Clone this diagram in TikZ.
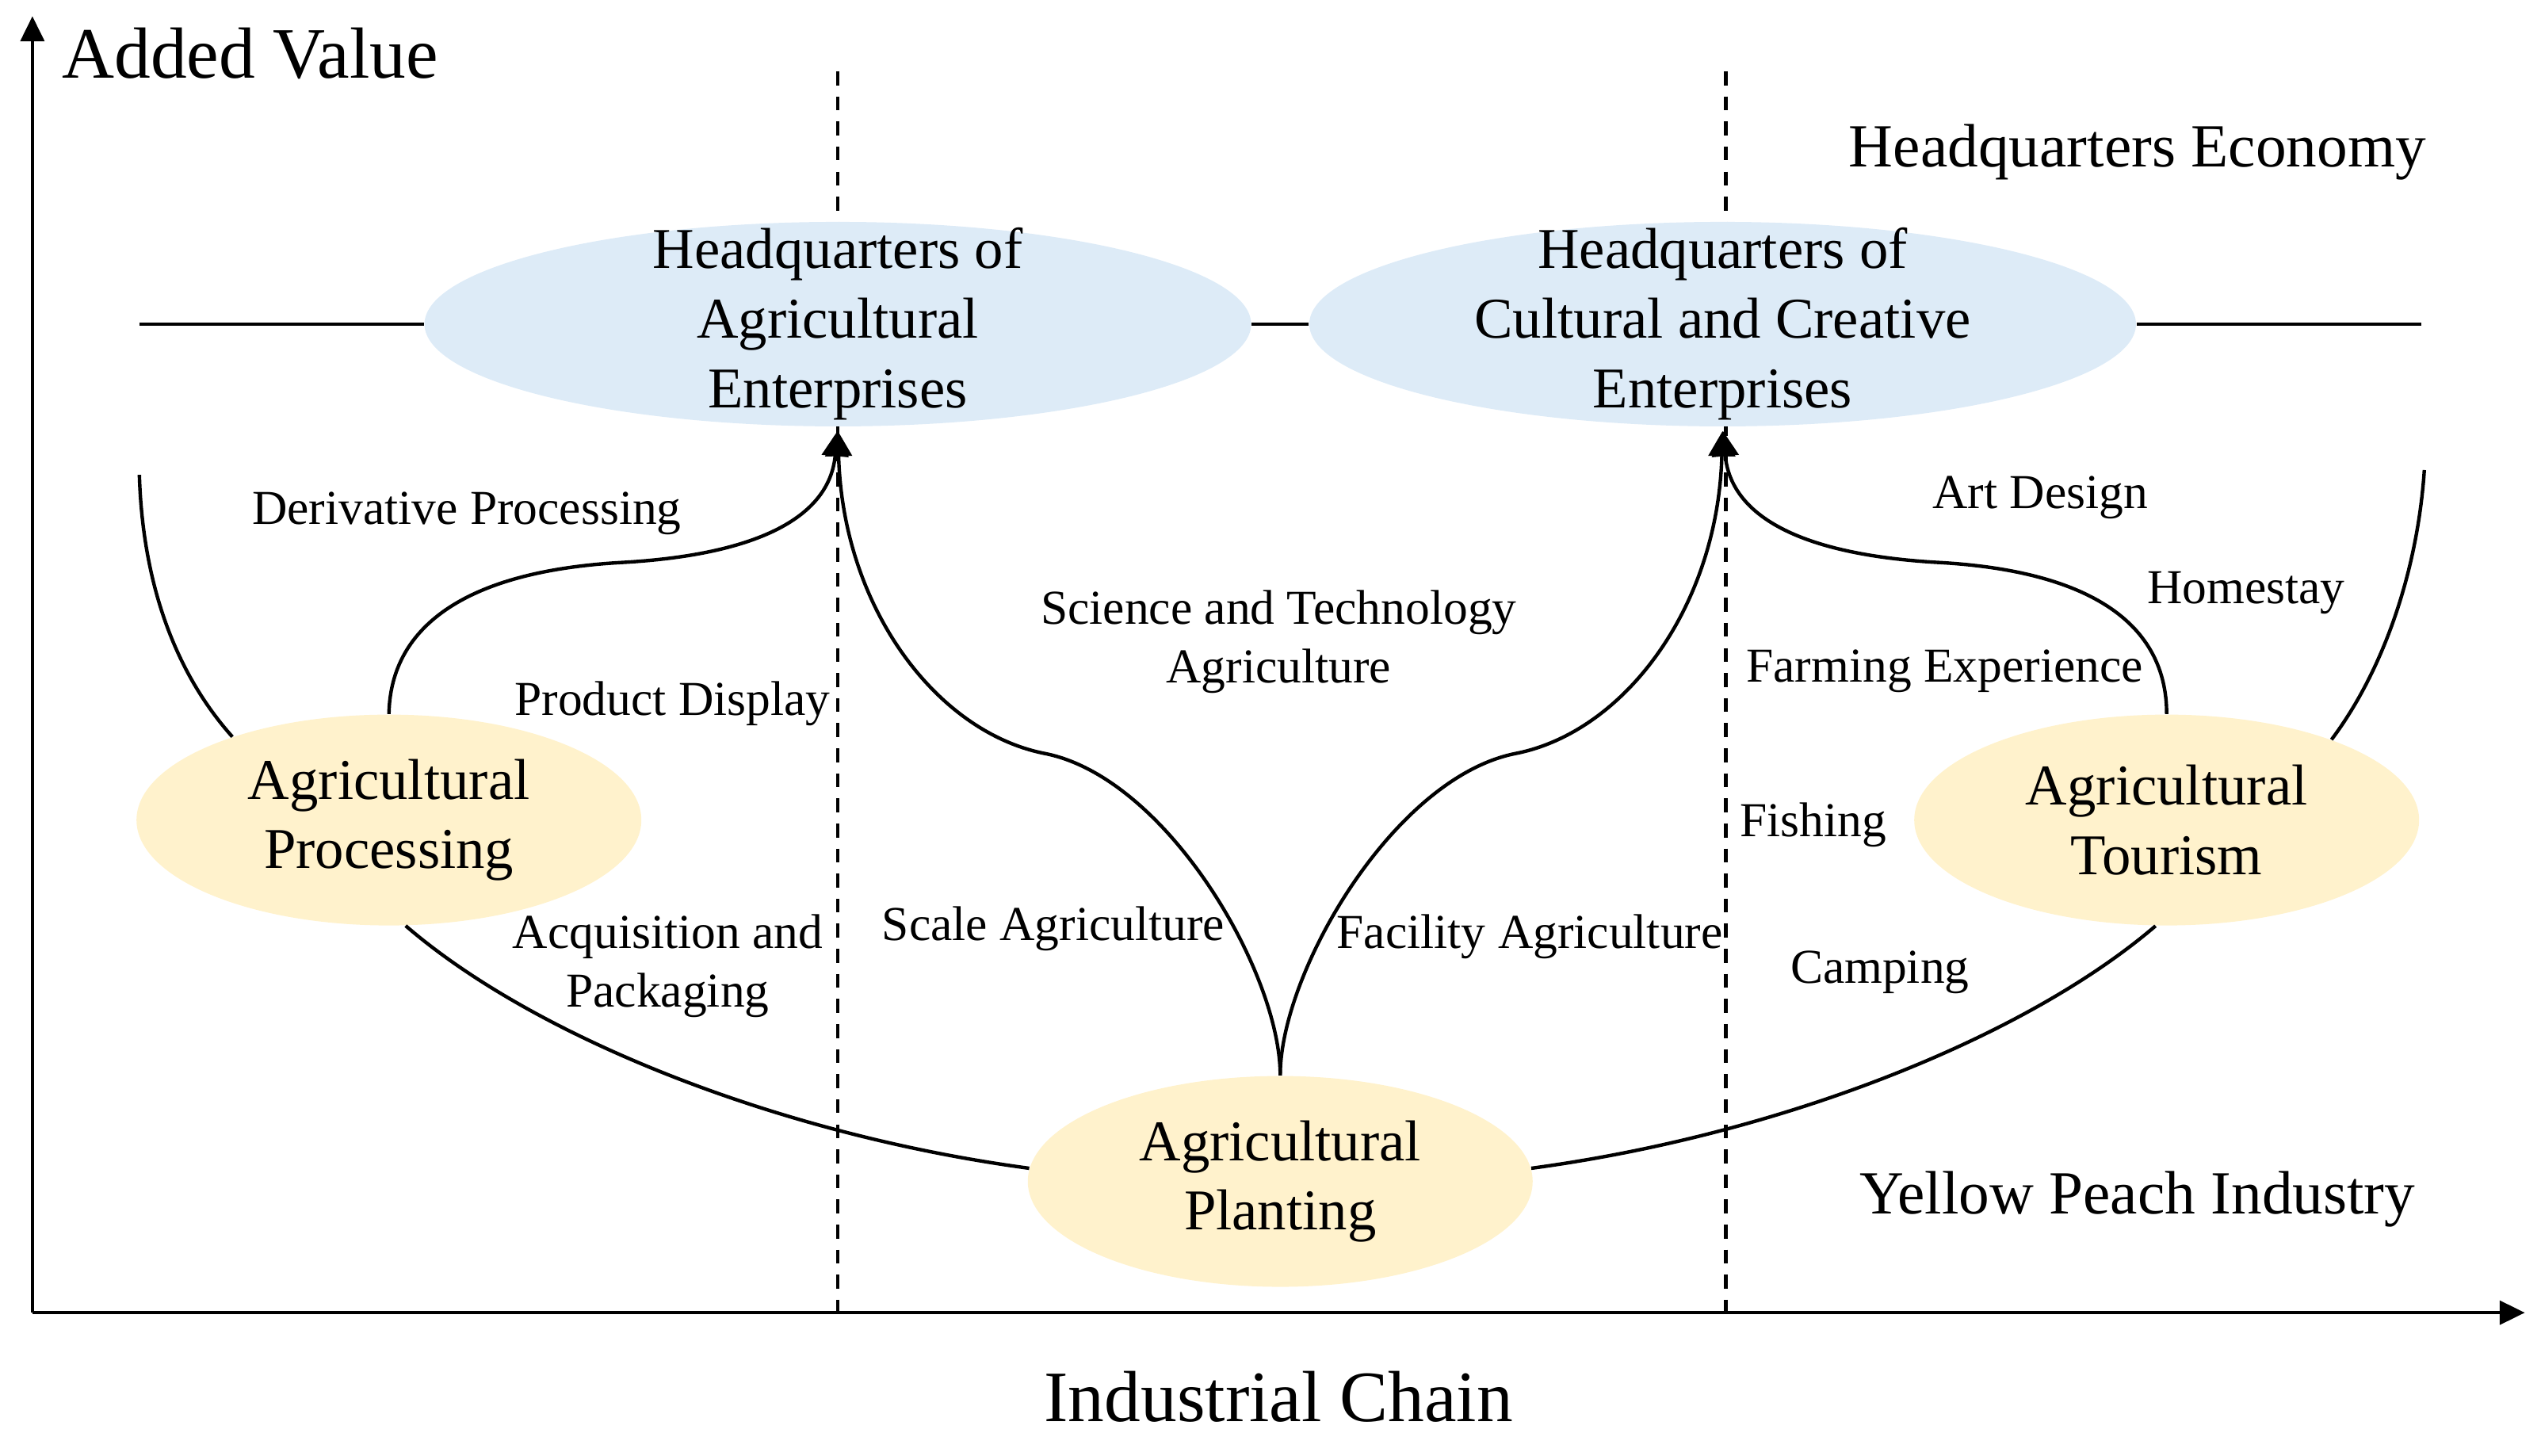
\documentclass[tikz,border=0pt]{standalone}
\usepackage{fontspec}
\setmainfont{Liberation Serif}
\usepackage{xcolor}
\usepackage{tikz}
\usetikzlibrary{arrows.meta,shapes.geometric}
\definecolor{hqblue}{HTML}{DDEBF7}
\definecolor{peachyellow}{HTML}{FFF2CC}
\tikzset{
  headquarters/.style={
    ellipse,
    fill=hqblue,
    minimum width=10.43cm,
    minimum height=2.58cm,
    inner xsep=0pt,
    inner ysep=-12pt,
    align=center,
    font=\fontsize{20.7}{25}\selectfont
  },
  industry/.style={
    ellipse,
    fill=peachyellow,
    minimum width=6.37cm,
    minimum height=2.66cm,
    inner sep=0pt,
    align=center,
    font=\fontsize{20.7}{25}\selectfont
  },
  link/.style={line width=1.25pt},
  arrow/.style={-{Triangle[length=9pt,width=9.5pt]},line width=1.25pt,shorten >=1.5pt},
  axis/.style={-{Triangle[length=9pt,width=8.5pt]},line width=1.2pt},
  divider/.style={dash pattern=on 5pt off 4pt,line width=1.3pt},
  stageLabel/.style={font=\fontsize{17.5}{21}\selectfont,align=center,inner sep=0pt},
  sectorLabel/.style={font=\fontsize{22}{26}\selectfont,inner sep=0pt},
  axisLabel/.style={font=\fontsize{26}{30}\selectfont,inner sep=0pt}
}

\begin{document}
\begin{tikzpicture}[x=0.020446cm,y=-0.020446cm]
  \useasboundingbox (0,0) rectangle (1568,898);

  % axes
  \coordinate (origin) at (20,810);
  \coordinate (yTop) at (20,10);
  \coordinate (xEnd) at (1558,810);
  \draw[axis] (origin) -- (yTop);
  \draw[axis] (origin) -- (xEnd);

  \node[axisLabel,anchor=west] (addedValue) at (38,33) {Added Value};
  \node[axisLabel] (industrialChain) at (789,862) {Industrial Chain};

  % dividers
  \coordinate (divLTop) at (517,44);
  \coordinate (divLBot) at (517,810);
  \coordinate (divRTop) at (1065,44);
  \coordinate (divRBot) at (1065,810);
  \draw[divider] (divLTop) -- (divLBot);
  \draw[divider] (divRTop) -- (divRBot);

  \node[headquarters] (hqAgri) at (517,200) {
    Headquarters of\\
    Agricultural\\
    Enterprises
  };
  \node[headquarters] (hqCult) at (1063,200) {
    Headquarters of\\
    Cultural and Creative\\
    Enterprises
  };

  \node[industry] (proc) at (240,506) {Agricultural\\Processing};
  \node[industry] (plant) at (790,729) {Agricultural\\Planting};
  \node[industry] (tour) at (1337,506) {Agricultural\\Tourism};

  % headquarters line
  \coordinate (hqLineL) at (86,200);
  \coordinate (hqLineR) at (1494,200);
  \draw[link] (hqLineL) -- (hqAgri);
  \draw[link] (hqAgri) -- (hqCult);
  \draw[link] (hqCult) -- (hqLineR);

  % industry curve
  \coordinate (outerL) at (86,293);
  \coordinate (outerR) at (1496,290);
  \draw[link] (outerL) .. controls (88,360) and (108,415) .. (proc.152);
  \draw[link] (proc.-81) .. controls (330,640) and (480,700) .. (plant.177);
  \draw[link] (plant.3) .. controls (1100,700) and (1250,640) .. (tour.-96);
  \draw[link] (tour.26) .. controls (1472,412) and (1492,350) .. (outerR);

  \draw[arrow] (proc.north) .. controls (241,385) and (290,352) .. (385,347)
    .. controls (470,342) and (512,318) .. (hqAgri.south);
  \draw[arrow] (plant.north) .. controls (790,600) and (720,480) .. (645,465)
    .. controls (578,452) and (520,375) .. (hqAgri.south);
  \draw[arrow] (plant.north) .. controls (790,600) and (860,480) .. (935,465)
    .. controls (1002,452) and (1060,375) .. (hqCult.south);
  \draw[arrow] (tour.north) .. controls (1337,385) and (1290,352) .. (1195,347)
    .. controls (1110,342) and (1068,318) .. (hqCult.south);

  \node[stageLabel] (derivProc) at (288,317) {Derivative Processing};
  \node[stageLabel] (prodDisplay) at (415,434) {Product Display};
  \node[stageLabel] (acqPack) at (412,596) {Acquisition and\\Packaging};
  \node[stageLabel] (sciTech) at (789,396) {Science and Technology\\Agriculture};
  \node[stageLabel] (scaleAgri) at (650,573) {Scale Agriculture};
  \node[stageLabel] (facilityAgri) at (944,578) {Facility Agriculture};
  \node[stageLabel] (artDesign) at (1259,307) {Art Design};
  \node[stageLabel] (homestay) at (1386,366) {Homestay};
  \node[stageLabel] (farmExp) at (1200,414) {Farming Experience};
  \node[stageLabel] (fishing) at (1119,509) {Fishing};
  \node[stageLabel] (camping) at (1160,600) {Camping};

  \node[sectorLabel] (hqEconomy) at (1319,94) {Headquarters Economy};
  \node[sectorLabel] (peachIndustry) at (1319,740) {Yellow Peach Industry};
\end{tikzpicture}
\end{document}
